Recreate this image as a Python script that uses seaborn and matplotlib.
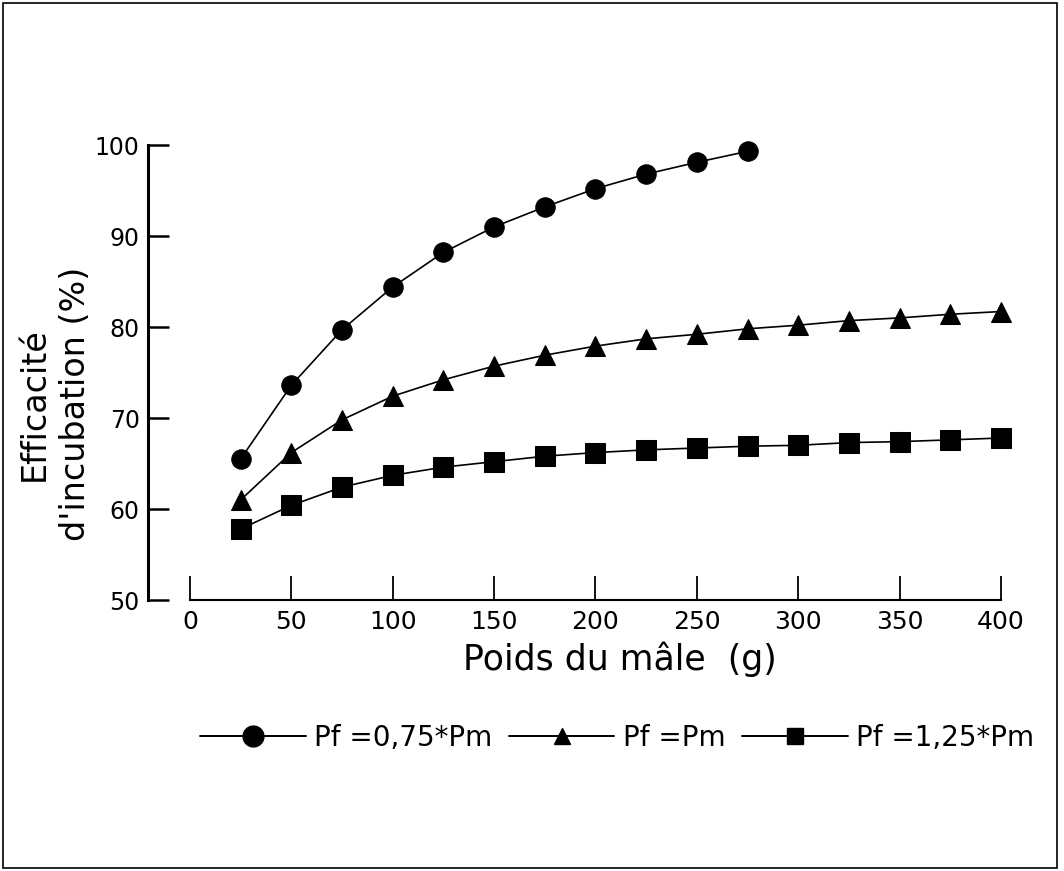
import matplotlib
matplotlib.use("Agg")
import matplotlib.pyplot as plt
import seaborn as sns
import pandas as pd
from matplotlib.lines import Line2D
from matplotlib.patches import Rectangle

# ---- data ----
x_circle = [25, 50, 75, 100, 125, 150, 175, 200, 225, 250, 275]
y_circle = [65.5, 73.6, 79.7, 84.4, 88.2, 91.0, 93.2, 95.2, 96.8, 98.1, 99.3]
x_long = [25, 50, 75, 100, 125, 150, 175, 200, 225, 250, 275, 300, 325, 350, 375, 400]
y_triangle = [61.0, 66.2, 69.8, 72.4, 74.2, 75.7, 76.9, 77.9, 78.7, 79.2, 79.8,
              80.2, 80.7, 81.0, 81.4, 81.7]
y_square = [57.8, 60.4, 62.4, 63.7, 64.6, 65.2, 65.8, 66.2, 66.5, 66.7, 66.9,
            67.0, 67.3, 67.4, 67.6, 67.8]
labels = ["Pf =0,75*Pm", "Pf =Pm", "Pf =1,25*Pm"]
x_ticks = [0, 50, 100, 150, 200, 250, 300, 350, 400]
y_ticks = [50, 60, 70, 80, 90, 100]

sns.set_theme(style="white")
plt.rcParams['font.family'] = ['DejaVu Sans']
plt.rcParams.update({"text.color": "black", "axes.labelcolor": "black",
                     "xtick.color": "black", "ytick.color": "black"})

fig = plt.figure(figsize=(10.64, 8.71), dpi=100)
ax = fig.add_axes([148/1064, 1-600/871, 853/1064, 455/871])

series = [
    (x_circle, y_circle, "o", 14, labels[0]),
    (x_long, y_triangle, "^", 15, labels[1]),
    (x_long, y_square, "s", 14, labels[2]),
]
for xs, ys, mk, ms, lab in series:
    df = pd.DataFrame({"x": xs, "y": ys})
    sns.lineplot(data=df, x="x", y="y", ax=ax, color="black", lw=1.2,
                 marker=mk, markersize=ms, markeredgecolor="black",
                 markerfacecolor="black", clip_on=False, legend=False)

ax.set_xlim(-20.7, 400)
ax.set_ylim(50, 100)
ax.set_xticks(x_ticks)
ax.set_yticks(y_ticks)
ax.set_xticklabels([str(v) for v in x_ticks], fontsize=18)
ax.set_yticklabels([str(v) for v in y_ticks], fontsize=17)
ax.tick_params(axis="x", bottom=True, direction="in", length=17, width=1.3,
               pad=7, color="black")
ax.tick_params(axis="y", left=True, direction="in", length=15, width=1.8,
               pad=6, color="black")

for s in ["top", "right"]:
    ax.spines[s].set_visible(False)
ax.spines["left"].set_linewidth(2.2)
ax.spines["bottom"].set_linewidth(1.5)
ax.spines["left"].set_color("black")
ax.spines["bottom"].set_color("black")
ax.spines["bottom"].set_bounds(0, 400)
ax.set_facecolor("none")

ax.set_xlabel("Poids du mâle  (g)", fontsize=25)
ax.xaxis.set_label_coords((620-148)/853, -0.092)
ax.set_ylabel("Efficacité\nd'incubation (%)", fontsize=24, linespacing=1.3)
ax.yaxis.set_label_coords(-0.066, 0.43)

handles = [
    Line2D([0], [0], color="black", lw=1.4, marker=m, markersize=s,
           markerfacecolor="black", markeredgecolor="black")
    for m, s in [("o", 15), ("^", 12), ("s", 12)]
]
fig.legend(handles, labels, loc="center", bbox_to_anchor=(617/1064, 1-738/871),
           ncol=3, frameon=False, fontsize=20, handlelength=3.8,
           columnspacing=0.6, handletextpad=0.3)

fig.patches.append(Rectangle((3/1064, 3/871), 1054/1064, 865/871,
                             transform=fig.transFigure, fill=False,
                             edgecolor="black", lw=1.2))

fig.savefig("out.png", dpi=100, facecolor="white")
